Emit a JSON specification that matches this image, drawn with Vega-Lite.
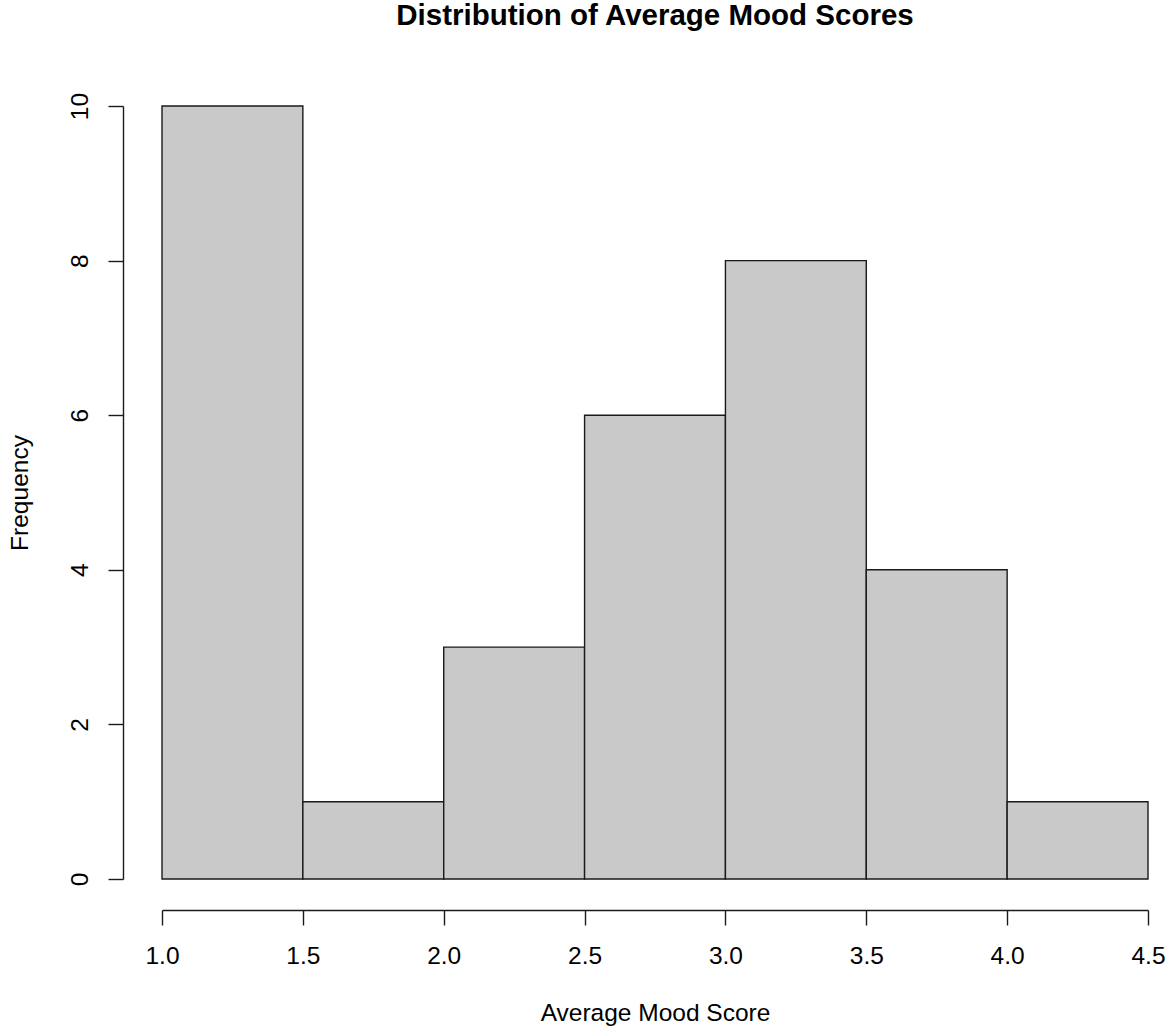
{
  "$schema": "https://vega.github.io/schema/vega-lite/v6.json",
  "autosize": "none",
  "padding": {"left": 162, "top": 106, "right": 18, "bottom": 149},
  "width": 986,
  "height": 773,
  "background": "white",
  "config": {
    "view": {"stroke": null},
    "font": "Liberation Sans",
    "axis": {"labelFont": "Liberation Sans", "titleFont": "Liberation Sans", "grid": false}
  },
  "title": {
    "text": "Distribution of Average Mood Scores",
    "font": "Liberation Sans",
    "fontSize": 29.5,
    "fontWeight": "bold",
    "color": "black",
    "anchor": "middle",
    "baseline": "alphabetic",
    "offset": 38
  },
  "data": {
    "values": [
      {"bin_start": 1.0, "bin_end": 1.5, "count": 10},
      {"bin_start": 1.5, "bin_end": 2.0, "count": 1},
      {"bin_start": 2.0, "bin_end": 2.5, "count": 3},
      {"bin_start": 2.5, "bin_end": 3.0, "count": 6},
      {"bin_start": 3.0, "bin_end": 3.5, "count": 8},
      {"bin_start": 3.5, "bin_end": 4.0, "count": 4},
      {"bin_start": 4.0, "bin_end": 4.5, "count": 1}
    ]
  },
  "mark": {"type": "rect", "fill": "#c9c9c9", "stroke": "#1a1a1a", "strokeWidth": 1.4},
  "encoding": {
    "x": {
      "field": "bin_start",
      "type": "quantitative",
      "scale": {"domain": [1, 4.5], "nice": false, "zero": false},
      "axis": {
        "title": "Average Mood Score",
        "values": [1.0, 1.5, 2.0, 2.5, 3.0, 3.5, 4.0, 4.5],
        "format": ".1f",
        "offset": 31,
        "domainColor": "#1a1a1a",
        "domainWidth": 1.4,
        "tickColor": "#1a1a1a",
        "tickWidth": 1.4,
        "tickSize": 15,
        "labelFontSize": 24.5,
        "labelColor": "black",
        "labelPadding": 19,
        "labelFlush": false,
        "labelOverlap": false,
        "titleFontSize": 24.5,
        "titleFontWeight": "normal",
        "titleColor": "black",
        "titlePadding": 34
      }
    },
    "x2": {"field": "bin_end"},
    "y": {
      "field": "count",
      "type": "quantitative",
      "scale": {"domain": [0, 10], "nice": false},
      "axis": {
        "title": "Frequency",
        "values": [0, 2, 4, 6, 8, 10],
        "offset": 39,
        "domainColor": "#1a1a1a",
        "domainWidth": 1.4,
        "tickColor": "#1a1a1a",
        "tickWidth": 1.4,
        "tickSize": 15,
        "labelFontSize": 24.5,
        "labelColor": "black",
        "labelAngle": -90,
        "labelAlign": "center",
        "labelBaseline": "alphabetic",
        "labelPadding": 21,
        "labelFlush": false,
        "labelOverlap": false,
        "titleFontSize": 24.5,
        "titleFontWeight": "normal",
        "titleColor": "black",
        "titlePadding": 35
      }
    },
    "y2": {"datum": 0}
  }
}
